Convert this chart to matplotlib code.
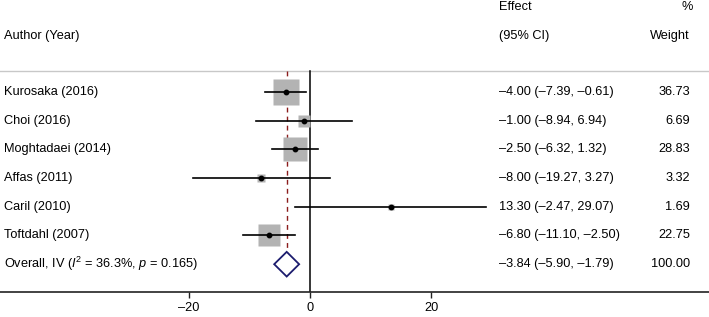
import matplotlib
matplotlib.use("Agg")
import matplotlib.pyplot as plt
import matplotlib.transforms as mtransforms
from matplotlib.patches import Polygon
import numpy as np

plt.rcParams['font.family'] = ['Liberation Sans', 'DejaVu Sans']
plt.rcParams['mathtext.fontset'] = 'custom'
plt.rcParams['mathtext.rm'] = 'Liberation Sans'
plt.rcParams['mathtext.it'] = 'Liberation Sans:italic'

studies = ["Kurosaka (2016)", "Choi (2016)", "Moghtadaei (2014)", "Affas (2011)",
           "Caril (2010)", "Toftdahl (2007)"]
effects = [-4.00, -1.00, -2.50, -8.00, 13.30, -6.80]
lower = [-7.39, -8.94, -6.32, -19.27, -2.47, -11.10]
upper = [-0.61, 6.94, 1.32, 3.27, 29.07, -2.50]
weights = [36.73, 6.69, 28.83, 3.32, 1.69, 22.75]
overall_label = r"Overall, IV ($I^2$ = 36.3%, $p$ = 0.165)"
overall = -3.84
overall_lo = -5.90
overall_hi = -1.79
overall_weight = 100.00
xticks = [-20, 0, 20]
xticklabels = ["\u201320", "0", "20"]

W, H = 709, 317
fig = plt.figure(figsize=(W / 100, H / 100), dpi=100)
bottom_px = 292
ax = fig.add_axes([0, (H - bottom_px) / H, 1, bottom_px / H])

px_per_unit = 6.07
x0_px = 310
ax.set_xlim(-x0_px / px_per_unit, (W - x0_px) / px_per_unit)
row0_px = 92
row_h = 28.7
ax.set_ylim((bottom_px - row0_px) / row_h, -row0_px / row_h)

for s in ['top', 'left', 'right']:
    ax.spines[s].set_visible(False)
ax.spines['bottom'].set_linewidth(1.2)
ax.spines['bottom'].set_color('#222222')
ax.set_yticks([])
ax.set_xticks(xticks)
ax.set_xticklabels(xticklabels, fontsize=9.2)
ax.tick_params(axis='x', direction='out', length=4, width=1.0, pad=3, colors='#222222')
for lab in ax.get_xticklabels():
    lab.set_color('black')

fs = 9.2
trans = mtransforms.blended_transform_factory(ax.transAxes, ax.transData)

def py(px):
    return (px - row0_px) / row_h

top_line = py(71)
# top separator
ax.plot([0, 1], [top_line, top_line], transform=trans, color='#c8c8c8', lw=1.0, clip_on=False)
# null line
ax.plot([0, 0], [top_line, ax.get_ylim()[0]], color='black', lw=1.1)
# overall dashed line
n = len(studies)
ax.plot([overall, overall], [top_line, n + 0.45], color='#8b1c1c', lw=1.0,
        dashes=(3.5, 3))

max_ms = 19.4
for i, (e, lo, hi, w) in enumerate(zip(effects, lower, upper, weights)):
    ms = max_ms * np.sqrt(w / max(weights))
    ax.plot([e], [i], marker='s', ms=ms, color='#b3b3b3', mec='none', zorder=2)
    ax.plot([lo, hi], [i, i], color='black', lw=1.2, zorder=3)
    ax.plot([e], [i], marker='o', ms=3.2, color='black', zorder=4)

# diamond
hh = 0.43
dia = Polygon([[overall_lo, n], [overall, n - hh], [overall_hi, n], [overall, n + hh]],
              closed=True, facecolor='white', edgecolor='#1c1c6e', lw=1.3, zorder=3)
ax.add_patch(dia)

# text columns
xa = 4 / W
xe = 499 / W
xw = 690 / W
ax.text(xe, py(7), "Effect", transform=trans, fontsize=fs, va='center', ha='left')
ax.text(693 / W, py(7), "%", transform=trans, fontsize=fs, va='center', ha='right')
ax.text(xa, py(36), "Author (Year)", transform=trans, fontsize=fs, va='center', ha='left')
ax.text(xe, py(36), "(95% CI)", transform=trans, fontsize=fs, va='center', ha='left')
ax.text(xw, py(36), "Weight", transform=trans, fontsize=fs, va='center', ha='right')

def fmt(v):
    s = f"{abs(v):.2f}"
    return ("\u2013" + s) if v < 0 else s

for i, (name, e, lo, hi, w) in enumerate(zip(studies, effects, lower, upper, weights)):
    ax.text(xa, i, name, transform=trans, fontsize=fs, va='center', ha='left')
    ax.text(xe, i, f"{fmt(e)} ({fmt(lo)}, {fmt(hi)})", transform=trans, fontsize=fs,
            va='center', ha='left')
    ax.text(xw, i, f"{w:.2f}", transform=trans, fontsize=fs, va='center', ha='right')

ax.text(xa, n, overall_label, transform=trans, fontsize=fs, va='center', ha='left')
ax.text(xe, n, f"{fmt(overall)} ({fmt(overall_lo)}, {fmt(overall_hi)})", transform=trans,
        fontsize=fs, va='center', ha='left')
ax.text(xw, n, f"{overall_weight:.2f}", transform=trans, fontsize=fs, va='center', ha='right')

fig.savefig("out.png", dpi=100)
